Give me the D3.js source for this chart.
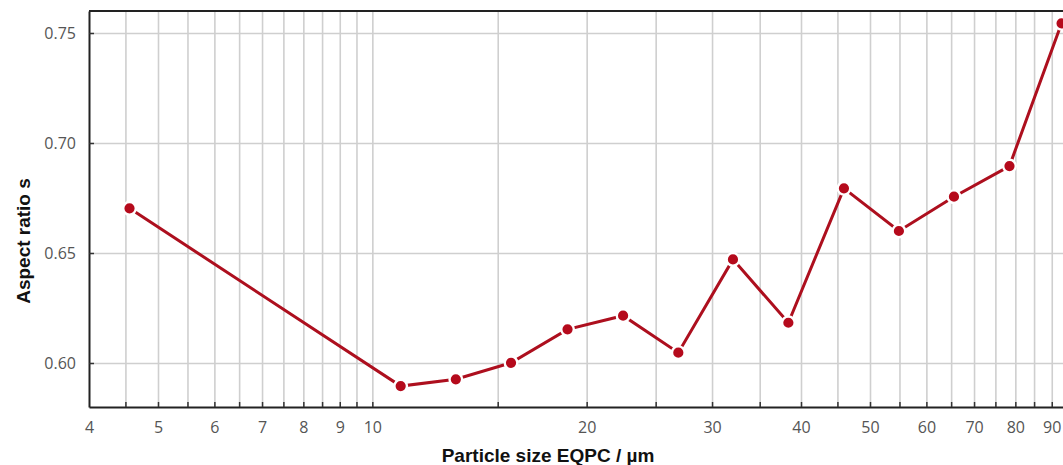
<!DOCTYPE html>
<html>
<head>
<meta charset="utf-8">
<script src="https://cdn.jsdelivr.net/npm/d3@7"></script>
<style>
  body { margin: 0; background: #fff; }
  svg { display: block; }
</style>
</head>
<body>
<div id="chart"></div>
<script>
// particle size (EQPC, µm) and aspect ratio
var sizes = [4.56, 10.96, 13.1, 15.66, 18.8, 22.5, 26.9, 32.1, 38.4, 45.96, 54.9, 65.6, 78.5, 92.9];
var ratios = [0.6703, 0.5895, 0.5926, 0.6001, 0.6153, 0.6215, 0.6047, 0.6471, 0.6183, 0.6794, 0.660, 0.6756, 0.6895, 0.7544];

var xGrid = [4.5, 5, 5.5, 6, 6.5, 7, 7.5, 8, 8.5, 9, 9.5, 10, 15, 20, 25, 30, 35, 40, 45, 50, 55, 60, 65, 70, 75, 80, 85, 90, 95];
var xLabels = [4, 5, 6, 7, 8, 9, 10, 20, 30, 40, 50, 60, 70, 80, 90];
var yTicks = [0.60, 0.65, 0.70, 0.75];

var width = 1063, height = 465;
var plotLeft = 89, plotTop = 11, plotBottom = 407;
var decade = 712;

var svg = d3.select("#chart")
  .append("svg")
  .attr("width", width)
  .attr("height", height);

var x = d3.scaleLog()
  .domain([4, 100])
  .range([plotLeft, plotLeft + decade * Math.log10(100 / 4)]);

var y = d3.scaleLinear()
  .domain([0.58, 0.76])
  .range([plotBottom, plotTop]);

// grid lines
svg.append("g")
  .attr("transform", "translate(0," + plotBottom + ")")
  .call(d3.axisBottom(x).tickValues(xGrid).tickSize(-(plotBottom - plotTop)).tickFormat(""))
  .call(g => g.select(".domain").remove())
  .selectAll("line")
  .attr("stroke", "#cfcfcf")
  .attr("stroke-width", 1.6);

svg.append("g")
  .attr("transform", "translate(" + plotLeft + ",0)")
  .call(d3.axisLeft(y).tickValues(yTicks).tickSize(-(width - plotLeft + 30)).tickFormat(""))
  .call(g => g.select(".domain").remove())
  .selectAll("line")
  .attr("stroke", "#cfcfcf")
  .attr("stroke-width", 1.6);

// axes
var xAxis = svg.append("g")
  .attr("transform", "translate(0," + plotBottom + ")")
  .call(d3.axisBottom(x)
    .tickValues(xGrid.concat([4]))
    .tickSizeInner(-5)
    .tickSizeOuter(0)
    .tickPadding(15)
    .tickFormat(d => xLabels.indexOf(d) >= 0 ? d : ""));

var yAxis = svg.append("g")
  .attr("transform", "translate(" + plotLeft + ",0)")
  .call(d3.axisLeft(y)
    .tickValues(yTicks)
    .tickSizeInner(-5)
    .tickSizeOuter(0)
    .tickPadding(13)
    .tickFormat(d3.format(".2f")));

[xAxis, yAxis].forEach(function(g) {
  g.select(".domain").attr("stroke", "#222").attr("stroke-width", 2);
  g.selectAll(".tick line").attr("stroke", "#333").attr("stroke-width", 1.5);
  g.selectAll(".tick text")
    .attr("fill", "#555")
    .style("font-family", "'Open Sans', 'Noto Sans', sans-serif")
    .style("font-size", "16px");
});
xAxis.selectAll(".tick").filter(d => d === 4).select("line").remove();

// top border
svg.append("line")
  .attr("x1", plotLeft).attr("x2", width)
  .attr("y1", plotTop).attr("y2", plotTop)
  .attr("stroke", "#222")
  .attr("stroke-width", 2);

// series
var line = d3.line()
  .x((d, i) => x(sizes[i]))
  .y(d => y(d));

svg.append("path")
  .datum(ratios)
  .attr("d", line)
  .attr("fill", "none")
  .attr("stroke", "#ad0f1e")
  .attr("stroke-width", 3);

svg.selectAll("circle.pt")
  .data(ratios)
  .enter()
  .append("circle")
  .attr("class", "pt")
  .attr("cx", (d, i) => x(sizes[i]))
  .attr("cy", d => y(d))
  .attr("r", 6.3)
  .attr("fill", "#b50a1c")
  .attr("stroke", "#fff")
  .attr("stroke-width", 2.4);

// titles
svg.append("text")
  .attr("transform", "translate(30,241) rotate(-90)")
  .attr("text-anchor", "middle")
  .style("font-family", "'Liberation Sans', Arial, sans-serif")
  .style("font-weight", "bold")
  .style("font-size", "19px")
  .attr("fill", "#111")
  .text("Aspect ratio s");

svg.append("text")
  .attr("x", 548)
  .attr("y", 462)
  .attr("text-anchor", "middle")
  .style("font-family", "'Liberation Sans', Arial, sans-serif")
  .style("font-weight", "bold")
  .style("font-size", "19px")
  .attr("fill", "#111")
  .text("Particle size EQPC / µm");
</script>
</body>
</html>
